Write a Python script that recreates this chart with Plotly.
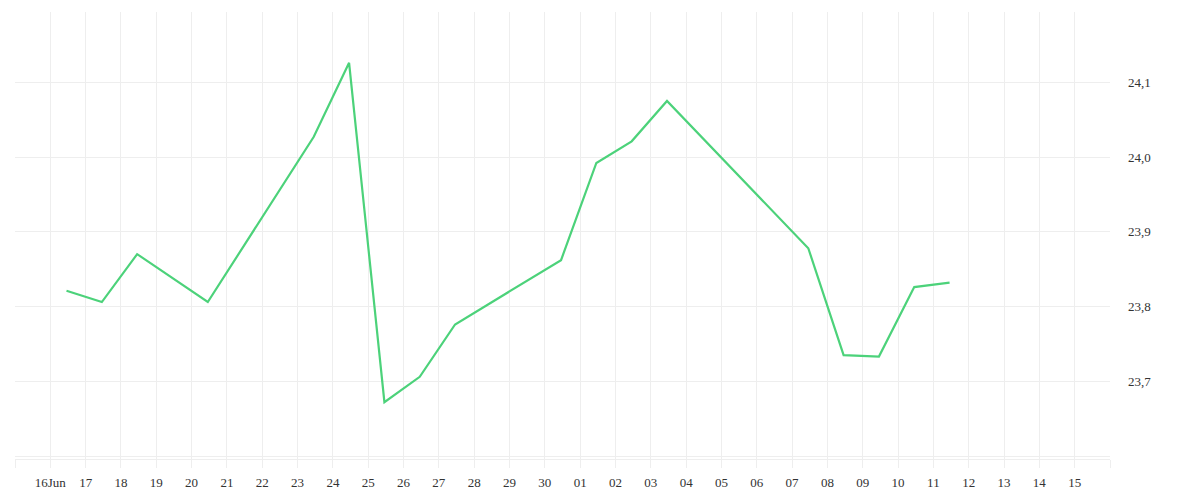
import plotly.graph_objects as go
import pandas as pd

# readings (one per day, late morning)
dates = ["2023-06-16", "2023-06-17", "2023-06-18", "2023-06-20", "2023-06-23",
         "2023-06-24", "2023-06-25", "2023-06-26", "2023-06-27", "2023-06-30",
         "2023-07-01", "2023-07-02", "2023-07-03", "2023-07-07", "2023-07-08",
         "2023-07-09", "2023-07-10", "2023-07-11"]
values = [23.821, 23.806, 23.870, 23.806, 24.027,
          24.126, 23.672, 23.706, 23.776, 23.862,
          23.992, 24.021, 24.075, 23.878, 23.735,
          23.733, 23.826, 23.832]

# x ticks: one per day, outer edges unlabeled
tick_days = pd.date_range("2023-06-15", "2023-07-16", freq="D")
tick_labels = [""] + ["16Jun"] + [d.strftime("%d") for d in tick_days[2:-1]] + [""]

y_ticks = [23.6, 23.7, 23.8, 23.9, 24.0, 24.1]
y_labels = ["", "23,7", "23,8", "23,9", "24,0", "24,1"]

x = pd.to_datetime(dates) + pd.Timedelta(hours=11)

fig = go.Figure()
fig.add_trace(go.Scatter(x=x, y=values, mode="lines",
                         line=dict(color="#4cd27a", width=2.2),
                         hoverinfo="x+y"))

grid = "#eeeeee"
# page body has an 8px margin, so the figure is a bit smaller than the window
fig.update_layout(
    width=1192, height=492,
    margin=dict(l=7, r=90, t=4, b=41),
    plot_bgcolor="white", paper_bgcolor="white",
    showlegend=False,
    font=dict(family="Liberation Serif", size=13, color="#333333"),
    xaxis=dict(
        range=[tick_days[0], tick_days[-1]],
        tickvals=tick_days, ticktext=tick_labels,
        showgrid=True, gridcolor=grid, gridwidth=1,
        ticks="outside", ticklen=8, tickcolor=grid,
        ticklabelstandoff=3,
        showline=True, linecolor=grid, linewidth=1,
        zeroline=False,
    ),
    yaxis=dict(
        side="right",
        range=[23.596, 24.194],
        tickvals=y_ticks, ticktext=y_labels,
        showgrid=True, gridcolor=grid, gridwidth=1,
        ticks="", ticklabelstandoff=17,
        showline=False, zeroline=False,
    ),
)

fig.write_html("out.html")
